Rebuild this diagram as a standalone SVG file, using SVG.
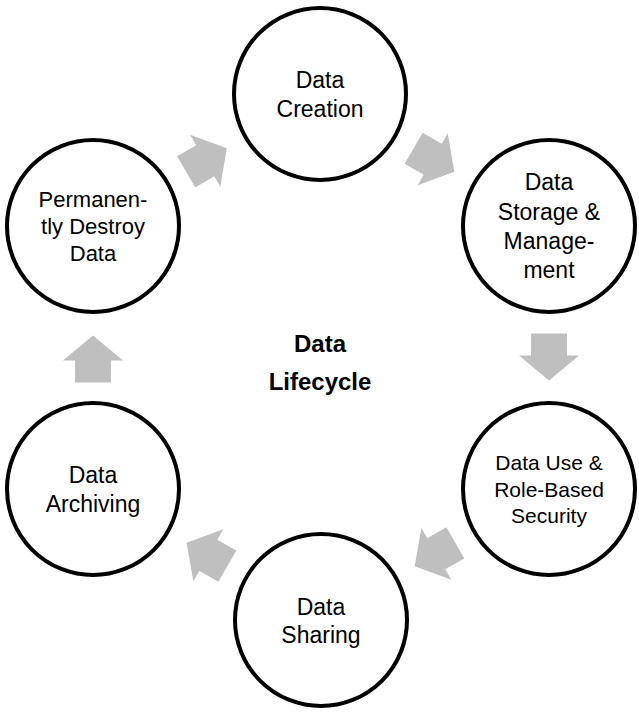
<svg xmlns="http://www.w3.org/2000/svg" width="639" height="713" viewBox="0 0 639 713">
<style>
.node circle{fill:#ffffff;stroke:#000000;stroke-width:4}
.lbl{font-family:"Liberation Sans",Arial,sans-serif;font-size:23px;fill:#000;text-anchor:middle}
.sm{font-size:21px}
.title{font-family:"Liberation Sans",Arial,sans-serif;font-size:24px;font-weight:bold;fill:#000;text-anchor:middle}
.arr{fill:#bfbfbf}
</style>
<defs>
<path id="blockArrow" class="arr" d="M-23.5,-18 L-1.5,-18 L-1.5,-30 L23.5,0 L-1.5,30 L-1.5,18 L-23.5,18 Z"/>
</defs>
<rect width="639" height="713" fill="#ffffff"/>
<g id="connectors">
<use href="#blockArrow" transform="translate(206.5,160) rotate(-30.2)"/>
<use href="#blockArrow" transform="translate(434,160) rotate(30.1)"/>
<use href="#blockArrow" transform="translate(549,357) rotate(90)"/>
<use href="#blockArrow" transform="translate(435,554.5) rotate(150.1)"/>
<use href="#blockArrow" transform="translate(207,554.5) rotate(-150.1)"/>
<use href="#blockArrow" transform="translate(93,359) rotate(-90)"/>
</g>
<g id="creation" class="node">
<circle cx="320" cy="94" r="86"/>
<text class="lbl" x="320" y="88">Data</text>
<text class="lbl" x="320" y="117">Creation</text>
</g>
<g id="storage" class="node">
<circle cx="549" cy="226" r="86"/>
<text class="lbl" x="549" y="190">Data</text>
<text class="lbl" x="549" y="219.5">Storage &amp;</text>
<text class="lbl" x="549" y="248.5">Manage-</text>
<text class="lbl" x="549" y="277.5">ment</text>
</g>
<g id="use" class="node">
<circle cx="549" cy="489" r="86"/>
<text class="lbl sm" x="549" y="470">Data Use &amp;</text>
<text class="lbl sm" x="549" y="497">Role-Based</text>
<text class="lbl sm" x="549" y="523">Security</text>
</g>
<g id="sharing" class="node">
<circle cx="321" cy="620" r="86"/>
<text class="lbl" x="321" y="615">Data</text>
<text class="lbl" x="321" y="643">Sharing</text>
</g>
<g id="archiving" class="node">
<circle cx="93" cy="489" r="86"/>
<text class="lbl" x="93" y="483">Data</text>
<text class="lbl" x="93" y="512">Archiving</text>
</g>
<g id="destroy" class="node">
<circle cx="93" cy="226" r="86"/>
<text class="lbl sm" x="93" y="207" style="font-size:22px">Permanen-</text>
<text class="lbl sm" x="93" y="234" style="font-size:22px">tly Destroy</text>
<text class="lbl sm" x="93" y="261" style="font-size:22px">Data</text>
</g>
<g id="center">
<text class="title" x="320" y="352">Data</text>
<text class="title" x="320" y="390">Lifecycle</text>
</g>
</svg>
